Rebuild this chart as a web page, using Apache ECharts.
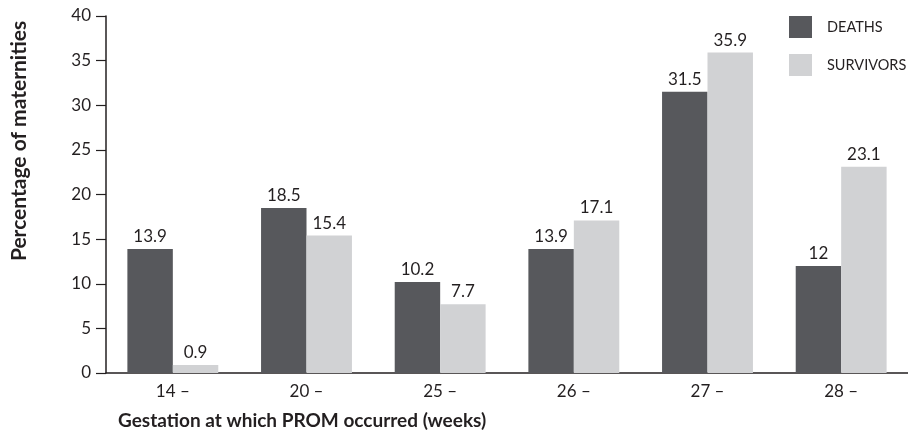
<!DOCTYPE html>
<html>
<head>
<meta charset="utf-8">
<script src="https://cdn.jsdelivr.net/npm/echarts@6/dist/echarts.min.js"></script>
<style>
  html, body { margin: 0; padding: 0; background: #fff; }
  #chart { width: 908px; height: 435px; }
</style>
</head>
<body>
<div id="chart"></div>
<script>
// Gestation week groups and percentage of maternities per outcome
const categories = ['14 –', '20 –', '25 –', '26 –', '27 –', '28 –'];
const deaths = [13.9, 18.5, 10.2, 13.9, 31.5, 12];
const survivors = [0.9, 15.4, 7.7, 17.1, 35.9, 23.1];
const yTicks = { min: 0, max: 40, interval: 5 };

const ink = '#231f20';
const font = 'Lato, "Open Sans", sans-serif';

const labelStyle = {
  show: true,
  position: 'top',
  distance: 4,
  color: ink,
  fontFamily: font,
  fontSize: 17
};

const chart = echarts.init(document.getElementById('chart'), null, { renderer: 'canvas' });
chart.setOption({
  animation: false,
  textStyle: { fontFamily: font, color: ink },
  grid: { left: 106, right: 0, top: 16, bottom: 62, containLabel: false },
  legend: {
    orient: 'vertical',
    left: 784,
    top: 11,
    itemWidth: 23,
    itemHeight: 22,
    itemGap: 16,
    icon: 'rect',
    textStyle: { color: ink, fontFamily: font, fontSize: 14.5, padding: [10, 0, 0, 10] },
    data: ['DEATHS', 'SURVIVORS']
  },
  // rotated title for the value axis, set beside the upper part of the axis
  graphic: [{
    type: 'text',
    x: 19,
    y: 141,
    rotation: Math.PI / 2,
    style: {
      text: 'Percentage of maternities',
      fill: ink,
      font: 'bold 21px ' + font,
      align: 'center',
      verticalAlign: 'middle'
    }
  }],
  xAxis: {
    type: 'category',
    data: categories,
    axisLine: { lineStyle: { color: ink, width: 1.5 } },
    axisTick: { show: false },
    axisLabel: { color: ink, fontFamily: font, fontSize: 17, margin: 10 },
    name: 'Gestation at which PROM occurred (weeks)',
    nameLocation: 'start',
    nameGap: 0,
    nameTextStyle: {
      color: ink, fontFamily: font, fontSize: 19, fontWeight: 'bold',
      align: 'left', verticalAlign: 'top', padding: [38, 0, 0, 12]
    }
  },
  yAxis: {
    type: 'value',
    min: yTicks.min,
    max: yTicks.max,
    interval: yTicks.interval,
    axisLine: { show: true, lineStyle: { color: ink, width: 1.5 } },
    axisTick: { show: true, inside: false, length: 10, lineStyle: { color: ink, width: 1.2 } },
    splitLine: { show: false },
    axisLabel: { color: ink, fontFamily: font, fontSize: 17, margin: 15 }
  },
  series: [
    {
      name: 'DEATHS',
      type: 'bar',
      data: deaths,
      barGap: '0%',
      barCategoryGap: '32%',
      itemStyle: { color: '#57585c' },
      label: labelStyle
    },
    {
      name: 'SURVIVORS',
      type: 'bar',
      data: survivors,
      itemStyle: { color: '#d1d2d4' },
      label: labelStyle
    }
  ]
});
</script>
</body>
</html>
